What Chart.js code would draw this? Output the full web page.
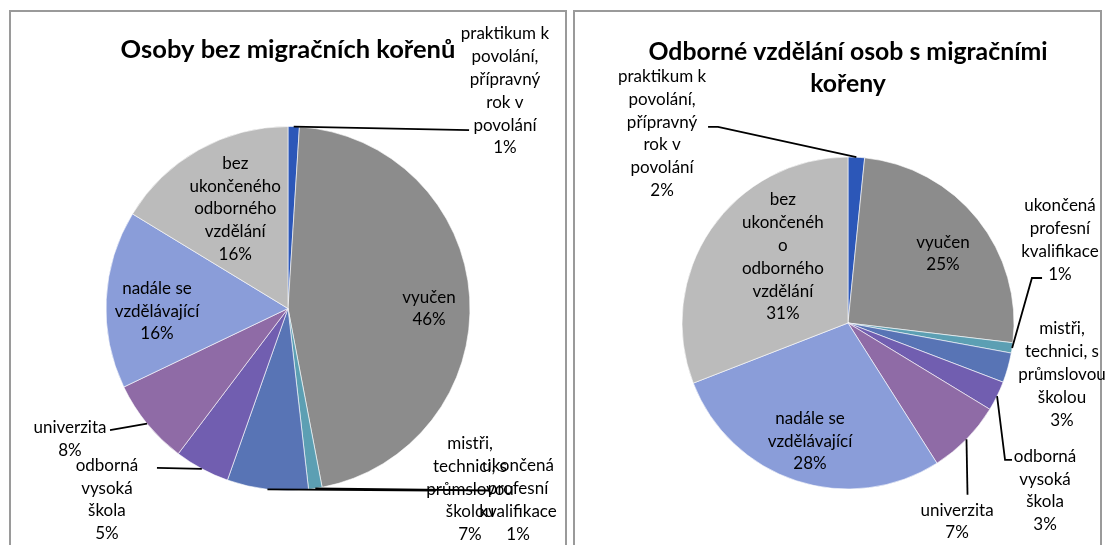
<!DOCTYPE html>
<html><head><meta charset="utf-8">
<script src="https://cdn.jsdelivr.net/npm/chart.js@4.4.0/dist/chart.umd.min.js"></script>
<style>
html,body{margin:0;padding:0;background:#fff}
body{width:1107px;height:545px;overflow:hidden;position:relative}
.panel{position:absolute;border:2px solid #9a9a9a;border-bottom:none;box-sizing:border-box}
.wrap{position:absolute;top:0}
</style></head><body>
<div class="panel" style="left:9px;top:10px;width:558px;height:535px"></div>
<div class="panel" style="left:573px;top:10px;width:529px;height:535px"></div>
<div class="wrap" style="left:0;width:567px;height:545px"><canvas id="c1" width="567" height="545"></canvas></div>
<div class="wrap" style="left:567px;width:540px;height:545px"><canvas id="c2" width="540" height="545"></canvas></div>
<script>
// ---- data ----
const categories = [
  "praktikum k povolání, přípravný rok v povolání",
  "vyučen",
  "ukončená profesní kvalifikace",
  "mistři, technici, s průmslovou školou",
  "odborná vysoká škola",
  "univerzita",
  "nadále se vzdělávající",
  "bez ukončeného odborného vzdělání"
];
const valuesWithout = [1.0, 46.0, 1.2, 7.2, 4.9, 7.6, 15.8, 16.3];
const valuesWith    = [1.6, 25.3, 1.0, 2.9, 2.9, 7.3, 28.1, 30.9];
const titleWithout = ["Osoby bez migračních kořenů"];
const titleWith = ["Odborné vzdělání osob s migračními", "kořeny"];
const labelLinesWithout = [
  ["praktikum k","povolání,","přípravný","rok v","povolání"],
  ["vyučen"],
  ["ukončená","profesní","kvalifikace"],
  ["mistři,","technici, s","průmslovou","školou"],
  ["odborná","vysoká","škola"],
  ["univerzita"],
  ["nadále se","vzdělávající"],
  ["bez","ukončeného","odborného","vzdělání"]
];
const labelLinesWith = [
  ["praktikum k","povolání,","přípravný","rok v","povolání"],
  ["vyučen"],
  ["ukončená","profesní","kvalifikace"],
  ["mistři,","technici, s","průmslovou","školou"],
  ["odborná","vysoká","škola"],
  ["univerzita"],
  ["nadále se","vzdělávající"],
  ["bez","ukončenéh","o","odborného","vzdělání"]
];
const sliceColors = ["#2c57b8","#8c8c8c","#5c9fb3","#5874b5","#715eb0","#8f6ba6","#8a9dd9","#bbbbbb"];

// ---- label layout (in units of pie radius, relative to pie centre) ----
const layoutWithout = {
  pos: [[1.192,-1.195],[0.775,0],[1.264,1.052],[1.0,0.992],[-0.995,1.049],[-1.198,0.717],[-0.72,0.014],[-0.29,-0.547]],
  leaders: [[[0.995,-0.98]], null, [[1.11,1.0]], [[0.813,1.0]], [[-0.72,0.876]], [[-0.978,0.668]], null, null]
};
const layoutWith = {
  pos: [[-1.12,-1.142],[0.572,-0.419],[1.277,-0.5],[1.289,0.31],[1.187,1.009],[0.657,1.196],[-0.229,0.711],[-0.392,-0.398]],
  leaders: [[[-0.783,-1.181],[-0.843,-1.181]], null, [[1.108,-0.271],[1.169,-0.271]], null, [[0.946,0.825],[0.988,0.825]], [[0.72,1.035]], null, null]
};

const FONT = "Lato, 'Open Sans', sans-serif";
const LABEL_SIZE = 17, LINE_H = 22.8;

const labelPlugin = {
  id: 'excelLabels',
  afterDatasetsDraw(chart, args, opts) {
    const ctx = chart.ctx;
    const meta = chart.getDatasetMeta(0);
    const vals = chart.data.datasets[0].data;
    const a0 = meta.data[0];
    const cx = a0.x, cy = a0.y, r = a0.outerRadius;
    ctx.save();
    // leader lines
    ctx.strokeStyle = '#000';
    ctx.lineWidth = 1.8;
    meta.data.forEach((arc, i) => {
      const pts = opts.layout.leaders[i];
      if (!pts) return;
      const mid = (arc.startAngle + arc.endAngle) / 2;
      ctx.beginPath();
      ctx.moveTo(cx + Math.cos(mid) * r, cy + Math.sin(mid) * r);
      pts.forEach(p => ctx.lineTo(cx + p[0] * r, cy + p[1] * r));
      ctx.stroke();
    });
    // labels
    ctx.fillStyle = '#000';
    ctx.font = LABEL_SIZE + 'px ' + FONT;
    ctx.textAlign = 'center';
    ctx.textBaseline = 'middle';
    meta.data.forEach((arc, i) => {
      const lines = opts.lines[i].concat([Math.round(vals[i]) + '%']);
      const p = opts.layout.pos[i];
      const x = cx + p[0] * r, y = cy + p[1] * r;
      const top = y - (lines.length - 1) * LINE_H / 2;
      lines.forEach((t, k) => ctx.fillText(t, x, top + k * LINE_H));
    });
    // title
    ctx.font = 'bold ' + opts.titleSize + 'px ' + FONT;
    opts.title.forEach((t, k) => ctx.fillText(t, cx, opts.titleY + k * 32));
    ctx.restore();
  }
};

function makeChart(id, values, lines, layout, title, titleY, titleSize, padding) {
  return new Chart(document.getElementById(id), {
    type: 'pie',
    data: {
      labels: categories,
      datasets: [{ data: values, backgroundColor: sliceColors, borderColor: 'rgba(255,255,255,0.6)', borderWidth: 1 }]
    },
    options: {
      responsive: false,
      animation: false,
      layout: { padding: padding },
      plugins: {
        legend: { display: false },
        tooltip: { enabled: false },
        title: { display: false },
        excelLabels: { lines: lines, layout: layout, title: title, titleY: titleY, titleSize: titleSize }
      }
    },
    plugins: [labelPlugin]
  });
}

makeChart('c1', valuesWithout, labelLinesWithout, layoutWithout, titleWithout, 50, 25.5,
  { left: 105.5, right: 96.5, top: 126, bottom: 54 });
makeChart('c2', valuesWith, labelLinesWith, layoutWith, titleWith, 52, 24.8,
  { left: 114.5, right: 92.5, top: 156.5, bottom: 55.5 });
</script>
</body></html>
